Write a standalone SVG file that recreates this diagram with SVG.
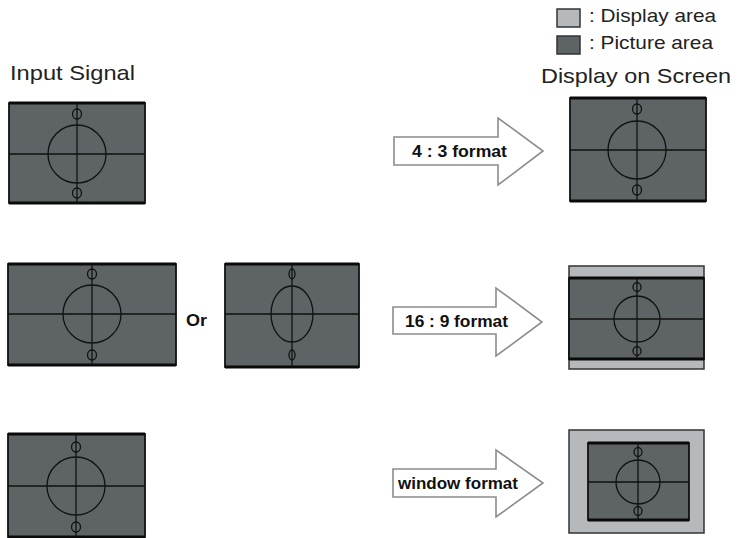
<svg xmlns="http://www.w3.org/2000/svg" width="741" height="538" viewBox="0 0 741 538">
<style>
.pic{fill:#5e6366;stroke:#111;stroke-width:1.8}
.disp{fill:#b5b9bc;stroke:#333;stroke-width:1.5}
.edge{stroke:#0a0a0a;stroke-width:3}
.ln{stroke:#111;stroke-width:1.3;fill:none}
.arrow{fill:#fff;stroke:#8c8c8c;stroke-width:1.6;stroke-linejoin:miter}
.t{font-family:"Liberation Sans",Arial,sans-serif;fill:#222}
.b{font-family:"Liberation Sans",Arial,sans-serif;font-weight:bold;fill:#111}
</style>
<rect width="741" height="538" fill="#fff"/>
<g id="legend">
<rect x="557" y="9" width="23" height="18" class="disp"/>
<text x="589" y="22" class="t" font-size="18.5" textLength="127" lengthAdjust="spacingAndGlyphs">: Display area</text>
<rect x="557" y="36" width="23" height="18" fill="#5e6366" stroke="#333" stroke-width="1.5"/>
<text x="589" y="49" class="t" font-size="18.5" textLength="124" lengthAdjust="spacingAndGlyphs">: Picture area</text>
</g>
<g id="titles">
<text x="10" y="80" class="t" font-size="21" textLength="125" lengthAdjust="spacingAndGlyphs">Input Signal</text>
<text x="541" y="83" class="t" font-size="21" textLength="190" lengthAdjust="spacingAndGlyphs">Display on Screen</text>
</g>
<g id="in1">
<rect x="9" y="103" width="136" height="100" class="pic"/>
<line x1="9" y1="103" x2="145" y2="103" class="edge"/><line x1="9" y1="203" x2="145" y2="203" class="edge"/>
<line x1="9" y1="154" x2="145" y2="154" class="ln"/><line x1="77" y1="103" x2="77" y2="203" class="ln"/>
<circle cx="77" cy="154" r="29" class="ln"/>
<ellipse cx="77" cy="114" rx="4.5" ry="5" class="ln"/><ellipse cx="77" cy="193" rx="4.5" ry="5" class="ln"/>
</g>
<g id="in2a">
<rect x="8" y="264" width="168" height="101" class="pic"/>
<line x1="8" y1="264" x2="176" y2="264" class="edge"/><line x1="8" y1="365" x2="176" y2="365" class="edge"/>
<line x1="8" y1="314" x2="176" y2="314" class="ln"/><line x1="92" y1="264" x2="92" y2="365" class="ln"/>
<circle cx="92" cy="314" r="29" class="ln"/>
<ellipse cx="92" cy="274" rx="4.5" ry="5" class="ln"/><ellipse cx="92" cy="355" rx="4.5" ry="5" class="ln"/>
</g>
<g id="or"><text x="186" y="326" class="b" font-size="16" textLength="21" lengthAdjust="spacingAndGlyphs">Or</text></g>
<g id="in2b">
<rect x="225" y="264" width="134" height="103" class="pic"/>
<line x1="225" y1="264" x2="359" y2="264" class="edge"/><line x1="225" y1="367" x2="359" y2="367" class="edge"/>
<line x1="225" y1="314" x2="359" y2="314" class="ln"/><line x1="292" y1="264" x2="292" y2="367" class="ln"/>
<ellipse cx="292" cy="314" rx="21" ry="28" class="ln"/>
<ellipse cx="292" cy="274" rx="3" ry="5" class="ln"/><ellipse cx="292" cy="355" rx="3" ry="5" class="ln"/>
</g>
<g id="in3">
<rect x="8" y="434" width="137" height="103" class="pic"/>
<line x1="8" y1="434" x2="145" y2="434" class="edge"/><line x1="8" y1="537" x2="145" y2="537" class="edge"/>
<line x1="8" y1="486" x2="145" y2="486" class="ln"/><line x1="76" y1="434" x2="76" y2="537" class="ln"/>
<circle cx="76" cy="486" r="29" class="ln"/>
<ellipse cx="76" cy="447" rx="4.5" ry="5" class="ln"/><ellipse cx="76" cy="527" rx="4.5" ry="5" class="ln"/>
</g>
<g id="connectors">
<g id="arrow1">
<polygon points="394,137 498,137 498,118 543,151 498,185 498,165 394,165" class="arrow"/>
<text x="412" y="157" class="b" font-size="16" textLength="95" lengthAdjust="spacingAndGlyphs">4 : 3 format</text>
</g>
<g id="arrow2">
<polygon points="393,307 496,307 496,288 542,322 496,356 496,334 393,334" class="arrow"/>
<text x="405" y="327" class="b" font-size="16" textLength="103" lengthAdjust="spacingAndGlyphs">16 : 9 format</text>
</g>
<g id="arrow3">
<polygon points="393,469 496,469 496,450 543,483 496,517 496,497 393,497" class="arrow"/>
<text x="398" y="489" class="b" font-size="16" textLength="120" lengthAdjust="spacingAndGlyphs">window format</text>
</g>
</g>
<g id="out1">
<rect x="570" y="98" width="136" height="103" class="pic"/>
<line x1="570" y1="98" x2="706" y2="98" class="edge"/><line x1="570" y1="201" x2="706" y2="201" class="edge"/>
<line x1="570" y1="150" x2="706" y2="150" class="ln"/><line x1="637" y1="98" x2="637" y2="201" class="ln"/>
<circle cx="637" cy="150" r="29" class="ln"/>
<ellipse cx="637" cy="109" rx="4.5" ry="5" class="ln"/><ellipse cx="637" cy="190" rx="4.5" ry="5" class="ln"/>
</g>
<g id="out2">
<rect x="569" y="266" width="135" height="103" class="disp"/>
<rect x="569" y="278" width="135" height="81" class="pic"/>
<line x1="569" y1="278" x2="704" y2="278" class="edge"/><line x1="569" y1="359" x2="704" y2="359" class="edge"/>
<line x1="569" y1="319" x2="704" y2="319" class="ln"/><line x1="637" y1="278" x2="637" y2="359" class="ln"/>
<circle cx="637" cy="319" r="23" class="ln"/>
<ellipse cx="637" cy="287" rx="4" ry="4.5" class="ln"/><ellipse cx="637" cy="351" rx="4" ry="4.5" class="ln"/>
</g>
<g id="out3">
<rect x="569" y="430" width="135" height="103" class="disp"/>
<rect x="588" y="443" width="101" height="77" class="pic"/>
<line x1="588" y1="443" x2="689" y2="443" class="edge"/><line x1="588" y1="520" x2="689" y2="520" class="edge"/>
<line x1="588" y1="482" x2="689" y2="482" class="ln"/><line x1="638" y1="443" x2="638" y2="520" class="ln"/>
<circle cx="638" cy="482" r="22" class="ln"/>
<ellipse cx="638" cy="452" rx="4" ry="4.5" class="ln"/><ellipse cx="638" cy="511" rx="4" ry="4.5" class="ln"/>
</g>
</svg>
